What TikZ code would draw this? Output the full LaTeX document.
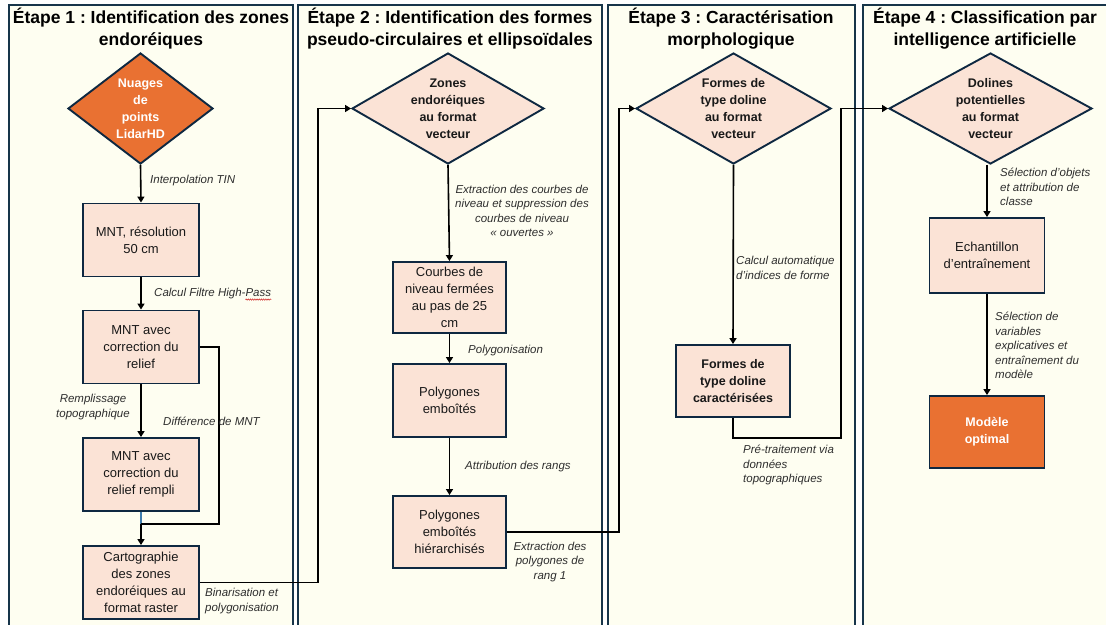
\documentclass[tikz,border=0pt]{standalone}
\usepackage{fontspec}
\setmainfont{Liberation Sans}
\usetikzlibrary{shapes.geometric,arrows.meta,decorations.pathmorphing}
\frenchspacing
\definecolor{panelfill}{HTML}{FEFEF1}
\definecolor{panelline}{HTML}{17354A}
\definecolor{boxfill}{HTML}{FBE3D6}
\definecolor{boxline}{HTML}{0E2841}
\definecolor{orangeA}{HTML}{E97132}
\definecolor{labelgray}{HTML}{2E2E2E}
\definecolor{bluelink}{HTML}{3F7CAC}
\definecolor{spellred}{HTML}{D02020}
\tikzset{
 panel/.style={draw=panelline, line width=1.8pt, fill=panelfill},
 titletext/.style={font=\fontsize{17.5}{21.5}\selectfont\bfseries, align=center, inner sep=0pt, text=black},
 pbox/.style={draw=boxline, line width=1.9pt, fill=boxfill, minimum width=116pt, minimum height=73pt, inner sep=2pt, align=center, font=\fontsize{13}{17}\selectfont, text=black!90},
 dia/.style={diamond, draw=boxline, line width=1.9pt, fill=boxfill, inner sep=0pt},
 diatext/.style={align=center, font=\fontsize{12.5}{17}\selectfont\bfseries, inner sep=0pt, text=black!90},
 lab/.style={font=\fontsize{11.5}{14.5}\selectfont\itshape, text=labelgray, inner sep=0pt},
 conn/.style={line width=1.6pt, draw=black},
 arr/.style={conn, -{Triangle[length=6pt,width=7pt]}},
}
\begin{document}
\begin{tikzpicture}[x=1pt,y=-1pt]
\clip (0,0) rectangle (1106,624);
\fill[white] (0,0) rectangle (1106,624);
% panels
\draw[panel] (9,5) rectangle (293,640);
\draw[panel] (298,5) rectangle (602,640);
\draw[panel] (608,5) rectangle (855,640);
\draw[panel] (863,5) rectangle (1120,640);
% titles
\node[titletext, anchor=north] (t1) at (151,8) {Étape 1 : Identification des zones\\endoréiques};
\node[titletext, anchor=north] (t2) at (450,8) {Étape 2 : Identification des formes\\pseudo-circulaires et ellipsoïdales};
\node[titletext, anchor=north] (t3) at (731,8) {Étape 3 : Caractérisation\\morphologique};
\node[titletext, anchor=north] (t4) at (985,8) {Étape 4 : Classification par\\intelligence artificielle};
% panel 1
\node[dia, minimum width=145pt, minimum height=111pt, fill=orangeA] (d1) at (140.5,108.5) {};
\node[diatext, text=white] (d1t) at (d1.center) {Nuages\\de\\points\\LidarHD};
\node[pbox] (b1) at (141,240) {MNT, résolution\\50 cm};
\node[pbox] (b2) at (141,347) {MNT avec\\correction du\\relief};
\node[pbox] (b3) at (141,474.5) {MNT avec\\correction du\\relief rempli};
\node[pbox] (b4) at (141,582.5) {Cartographie\\des zones\\endoréiques au\\format raster};
% panel 2
\node[dia, minimum width=192pt, minimum height=111pt] (d2) at (448,108.5) {};
\node[diatext] (d2t) at (d2.center) {Zones\\endoréiques\\au format\\vecteur};
\node[pbox, minimum width=113pt, minimum height=71pt] (c1) at (449.5,297.5) {Courbes de\\niveau fermées\\au pas de 25\\cm};
\node[pbox, minimum width=113pt] (c2) at (449.5,400.5) {Polygones\\emboîtés};
\node[pbox, minimum width=113pt, minimum height=72pt] (c3) at (449.5,532) {Polygones\\emboîtés\\hiérarchisés};
% panel 3
\node[dia, minimum width=195pt, minimum height=111pt] (d3) at (733.5,108.5) {};
\node[diatext] (d3t) at (d3.center) {Formes de\\type doline\\au format\\vecteur};
\node[pbox, minimum width=114pt, minimum height=72pt, font=\fontsize{12.5}{17}\selectfont\bfseries] (e0) at (733,381) {Formes de\\type doline\\caractérisées};
% panel 4
\node[dia, minimum width=203pt, minimum height=111pt] (d4) at (990.5,108.5) {};
\node[diatext] (d4t) at (d4.center) {Dolines\\potentielles\\au format\\vecteur};
\node[pbox, minimum width=115pt, minimum height=75pt] (f1) at (987,255.5) {Echantillon\\d’entraînement};
\node[pbox, minimum width=115pt, minimum height=72pt, fill=orangeA, text=white, font=\fontsize{12.5}{17}\selectfont\bfseries] (f2) at (987,432) {Modèle\\optimal};
% connector coordinates
\coordinate (j1) at (141,524);
\coordinate (r1) at (219,524);
\coordinate (v1) at (318,108.5);
\coordinate (v2) at (619,108.5);
\coordinate (v3) at (841,438);
\coordinate (v4) at (841,108.5);
% connectors
\draw[arr] (d1.south) -- (b1.north);
\draw[arr] (b1.south) -- (b2.north);
\draw[arr] (b2.south) -- (b3.north);
\draw[conn, draw=bluelink] (b3.south) -- (j1);
\draw[conn] (b2.east) -| (r1) -- (j1);
\draw[arr] (j1) -- (b4.north);
\draw[arr] (b4.east) -| (v1) -- (d2.west);
\draw[arr] (d2.south) -- (c1.north);
\draw[arr] (c1.south) -- (c2.north);
\draw[arr] (c2.south) -- (c3.north);
\draw[arr] (c3.east) -| (v2) -- (d3.west);
\draw[arr] (d3.south) -- (e0.north);
\draw[arr] (e0.south) |- (v3) -- (v4) -- (d4.west);
\draw[arr] (f1.north |- d4.south) -- (f1.north);
\draw[arr] (f1.south) -- (f2.north);
% labels
\node[lab, anchor=west] (l1) at (150,181) {Interpolation TIN};
\node[lab, anchor=west] (l2) at (154,294) {Calcul Filtre High-Pass};
\draw[spellred, line width=0.5pt, decorate, decoration={snake, amplitude=0.7pt, segment length=2.2pt}] ([xshift=-26pt]l2.south east) -- (l2.south east);
\node[lab, align=center] (l3) at (93,407) {Remplissage\\topographique};
\node[lab, anchor=west] (l4) at (163,421) {Différence de MNT};
\node[lab, align=left, anchor=west] (l5) at (205,601) {Binarisation et\\polygonisation};
\node[lab, align=center] (l6) at (522,211) {Extraction des courbes de\\niveau et suppression des\\courbes de niveau\\« ouvertes »};
\node[lab, anchor=west] (l7) at (468,351) {Polygonisation};
\node[lab, anchor=west] (l8) at (465,467) {Attribution des rangs};
\node[lab, align=center] (l9) at (550,562) {Extraction des\\polygones de\\rang 1};
\node[lab, align=left, anchor=west] (l10) at (736,268) {Calcul automatique\\d’indices de forme};
\node[lab, align=left, anchor=west] (l11) at (743,465) {Pré-traitement via\\données\\topographiques};
\node[lab, align=left, anchor=west] (l12) at (1000,187) {Sélection d’objets\\et attribution de\\classe};
\node[lab, align=left, anchor=west] (l13) at (995,345.5) {Sélection de\\variables\\explicatives et\\entraînement du\\modèle};
\end{tikzpicture}
\end{document}
